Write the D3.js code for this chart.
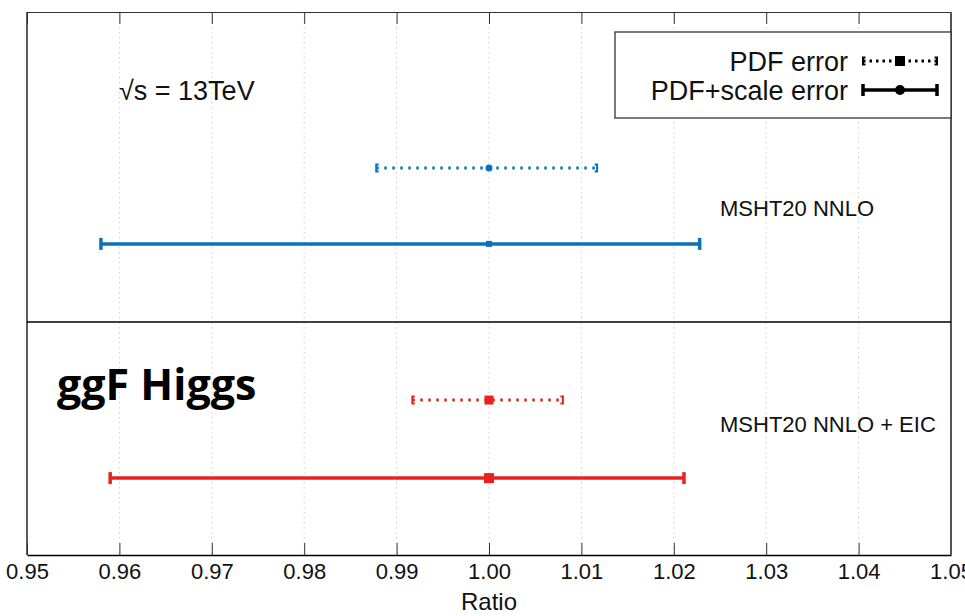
<!DOCTYPE html>
<html><head><meta charset="utf-8">
<script src="https://cdn.jsdelivr.net/npm/d3@7"></script>
<style>body{margin:0;background:#fff}svg{display:block}text{font-family:"Liberation Sans",Arial,sans-serif}</style>
</head><body>
<svg id="c" width="965" height="616"></svg>
<script>
// data
const sets = ["MSHT20 NNLO", "MSHT20 NNLO + EIC"];
const central = [1.000, 1.000];
const pdfLow = [0.9878, 0.9917];
const pdfHigh = [1.0117, 1.0080];
const totLow = [0.9580, 0.9590];
const totHigh = [1.0228, 1.0211];
const xTicks = [0.95, 0.96, 0.97, 0.98, 0.99, 1.00, 1.01, 1.02, 1.03, 1.04, 1.05];
const colors = ["#0a72bb", "#e8231d"];

const svg = d3.select("#c");
const L = 27, R = 951, T = 12, B = 555, MID = 322;
const x = d3.scaleLinear().domain([0.95, 1.05]).range([L, R]);
// vertical layout: each set sits in its own panel
const panelY = [d3.scaleLinear().domain([0, 1]).range([T, MID]), d3.scaleLinear().domain([0, 1]).range([MID, B])];
const rowPdf = [0.503, 0.335], rowTot = [0.748, 0.67];

// grid
svg.append("g").selectAll("line").data(xTicks.slice(1, -1)).join("line")
  .attr("x1", d => x(d)).attr("x2", d => x(d)).attr("y1", T).attr("y2", B)
  .attr("stroke", "#cfcfcf").attr("stroke-width", 1).attr("stroke-dasharray", "1.5,3.5");

// axes
const ax = d3.axisBottom(x).tickValues(xTicks).tickFormat(d3.format(".2f")).tickSizeInner(-12).tickSizeOuter(0).tickPadding(8);
const gx = svg.append("g").attr("transform", `translate(0,${B})`).call(ax);
gx.attr("font-size", null).attr("font-family", null);
gx.select(".domain").attr("stroke", "#000").attr("stroke-width", 1.6);
gx.selectAll(".tick line").attr("stroke", "#333");
gx.selectAll("text").style("font-size", "22px").attr("fill", "#111").attr("dy", null).attr("y", 24);
const axT = d3.axisTop(x).tickValues(xTicks).tickFormat("").tickSizeInner(-12).tickSizeOuter(0);
const gt = svg.append("g").attr("transform", `translate(0,${T})`).call(axT);
gt.select(".domain").attr("stroke", "#333").attr("stroke-width", 1.2);
gt.selectAll(".tick line").attr("stroke", "#333");
svg.append("line").attr("x1", L).attr("x2", L).attr("y1", T).attr("y2", B).attr("stroke", "#333").attr("stroke-width", 1.6);
svg.append("line").attr("x1", R).attr("x2", R).attr("y1", T).attr("y2", B).attr("stroke", "#555").attr("stroke-width", 2);
svg.append("line").attr("x1", L).attr("x2", R).attr("y1", MID).attr("y2", MID).attr("stroke", "#000").attr("stroke-width", 1.5);

svg.append("text").attr("x", (L + R) / 2).attr("y", 610).attr("text-anchor", "middle").style("font-size", "24px").attr("fill", "#111").text("Ratio");

// error bars
sets.forEach((s, i) => {
  const c = colors[i];
  const yp = panelY[i](rowPdf[i]), yt = panelY[i](rowTot[i]);
  const g = svg.append("g");
  // PDF error (dotted)
  g.append("line").attr("x1", x(pdfLow[i])).attr("x2", x(pdfHigh[i])).attr("y1", yp).attr("y2", yp)
    .attr("stroke", c).attr("stroke-width", 3).attr("stroke-dasharray", "2.5,5.5");
  [[pdfLow[i], 1], [pdfHigh[i], -1]].forEach(([v, dir]) => {
    const xx = x(v);
    g.append("path").attr("d", `M${xx + 2.5 * dir},${yp - 3.5}H${xx}V${yp + 3.5}H${xx + 2.5 * dir}`)
      .attr("fill", "none").attr("stroke", c).attr("stroke-width", 2);
  });
  // total error (solid)
  g.append("line").attr("x1", x(totLow[i])).attr("x2", x(totHigh[i])).attr("y1", yt).attr("y2", yt)
    .attr("stroke", c).attr("stroke-width", 3.5);
  [totLow[i], totHigh[i]].forEach(v => {
    g.append("line").attr("x1", x(v)).attr("x2", x(v)).attr("y1", yt - 6).attr("y2", yt + 6)
      .attr("stroke", c).attr("stroke-width", 3.5);
  });
  if (i === 0) {
    g.append("circle").attr("cx", x(central[i])).attr("cy", yp).attr("r", 3.5).attr("fill", c);
    g.append("rect").attr("x", x(central[i]) - 3).attr("y", yt - 3).attr("width", 6).attr("height", 6).attr("fill", c);
  } else {
    g.append("rect").attr("x", x(central[i]) - 4.5).attr("y", yp - 4.5).attr("width", 9).attr("height", 9).attr("fill", c);
    g.append("rect").attr("x", x(central[i]) - 5).attr("y", yt - 5).attr("width", 10).attr("height", 10).attr("fill", c);
  }
  svg.append("text").attr("x", 720).attr("y", i === 0 ? 216 : 432).style("font-size", "22px").attr("fill", "#111").text(s);
});

// annotations
svg.append("text").attr("x", 119).attr("y", 100).style("font-size", "27px").attr("fill", "#111").text("√s = 13TeV");
svg.append("text").attr("x", 57).attr("y", 400).style("font-size", "43px").attr("font-weight", "bold")
  .style("font-family", "'Open Sans', 'DejaVu Sans', sans-serif").attr("fill", "#000").text("ggF Higgs");

// legend
const lg = svg.append("g");
lg.append("rect").attr("x", 615).attr("y", 32).attr("width", R - 615).attr("height", 86)
  .attr("fill", "#fff").attr("stroke", "#333").attr("stroke-width", 1.3);
lg.append("text").attr("x", 848).attr("y", 71).attr("text-anchor", "end").style("font-size", "27px").attr("fill", "#111").text("PDF error");
lg.append("text").attr("x", 848).attr("y", 100).attr("text-anchor", "end").style("font-size", "27px").attr("fill", "#111").text("PDF+scale error");
const lx1 = 863, lx2 = 937, lm = 900;
lg.append("line").attr("x1", lx1).attr("x2", lx2).attr("y1", 61).attr("y2", 61).attr("stroke", "#000").attr("stroke-width", 3).attr("stroke-dasharray", "2.5,4");
lg.append("path").attr("d", `M${lx1 + 2.5},57.5H${lx1}V64.5H${lx1 + 2.5}M${lx2 - 2.5},57.5H${lx2}V64.5H${lx2 - 2.5}`).attr("fill", "none").attr("stroke", "#000").attr("stroke-width", 2);
lg.append("rect").attr("x", lm - 5).attr("y", 56).attr("width", 10).attr("height", 10).attr("fill", "#000");
lg.append("line").attr("x1", lx1).attr("x2", lx2).attr("y1", 90).attr("y2", 90).attr("stroke", "#000").attr("stroke-width", 3.5);
[lx1, lx2].forEach(v => lg.append("line").attr("x1", v).attr("x2", v).attr("y1", 84).attr("y2", 96).attr("stroke", "#000").attr("stroke-width", 3.5));
lg.append("circle").attr("cx", lm).attr("cy", 90).attr("r", 5).attr("fill", "#000");
</script>
</body></html>
